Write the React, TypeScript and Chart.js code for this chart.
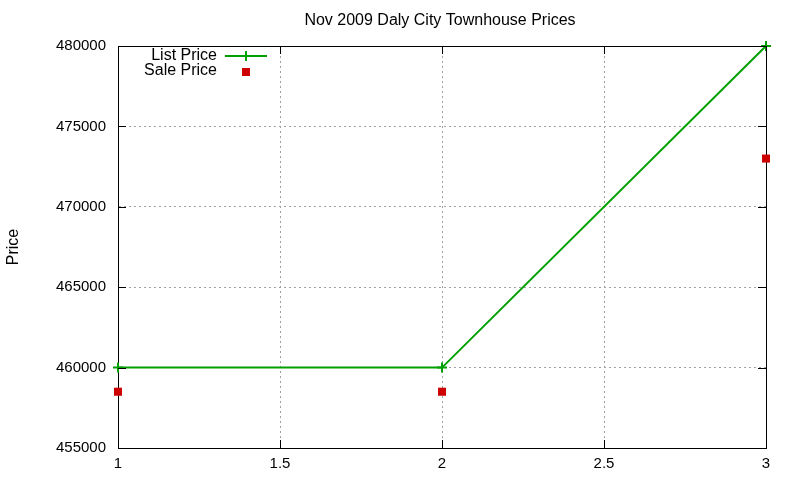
import { useEffect, useRef } from "react";
import { Chart, registerables } from "chart.js";

Chart.register(...registerables);

const xValues = [1, 2, 3];
const listPrices = [460000, 460000, 480000];
const salePrices = [458500, 458500, 473000];
const seriesNames = ["List Price", "Sale Price"];
const chartTitle = "Nov 2009 Daly City Townhouse Prices";

const FONT = "'Liberation Sans', Arial, sans-serif";
const GREEN = "#00a000";
const RED = "#cc0000";

// gnuplot-like extras: title, inward tick marks on all four sides, key box
const gnuplotExtras = {
  id: "gnuplotExtras",
  afterDraw(chart: any) {
    const { ctx, chartArea } = chart;
    const { left, right, top, bottom } = chartArea;
    const xs = chart.scales.x;
    const ys = chart.scales.y;
    ctx.save();
    ctx.strokeStyle = "#000";
    ctx.lineWidth = 1;
    ctx.beginPath();
    for (const t of xs.ticks) {
      const px = Math.round(xs.getPixelForValue(t.value)) + 0.5;
      ctx.moveTo(px, bottom);
      ctx.lineTo(px, bottom - 8);
      ctx.moveTo(px, top);
      ctx.lineTo(px, top + 8);
    }
    for (const t of ys.ticks) {
      const py = Math.round(ys.getPixelForValue(t.value)) + 0.5;
      ctx.moveTo(left, py);
      ctx.lineTo(left + 8, py);
      ctx.moveTo(right, py);
      ctx.lineTo(right - 8, py);
    }
    ctx.stroke();

    ctx.fillStyle = "#000";
    ctx.font = `16px ${FONT}`;
    ctx.textAlign = "center";
    ctx.textBaseline = "middle";
    ctx.fillText(chartTitle, 440, 21);

    // key
    ctx.textAlign = "right";
    ctx.fillText(seriesNames[0], 217, 56);
    ctx.fillText(seriesNames[1], 217, 71);
    ctx.strokeStyle = GREEN;
    ctx.lineWidth = 2;
    ctx.beginPath();
    ctx.moveTo(225, 56);
    ctx.lineTo(267, 56);
    ctx.moveTo(246, 51);
    ctx.lineTo(246, 61);
    ctx.stroke();
    ctx.fillStyle = RED;
    ctx.fillRect(242, 68, 8, 8);
    ctx.restore();
  },
};

export default function App() {
  const canvasRef = useRef<HTMLCanvasElement>(null);

  useEffect(() => {
    document.body.style.margin = "0";
    if (!canvasRef.current) return;
    const chart = new Chart(canvasRef.current, {
      type: "scatter",
      data: {
        datasets: [
          {
            label: seriesNames[0],
            data: xValues.map((x, i) => ({ x, y: listPrices[i] })),
            showLine: true,
            borderColor: GREEN,
            backgroundColor: GREEN,
            borderWidth: 2,
            pointStyle: "cross",
            pointRadius: 5,
            pointBorderWidth: 2,
            clip: false,
          },
          {
            label: seriesNames[1],
            data: xValues.map((x, i) => ({ x, y: salePrices[i] })),
            showLine: false,
            borderColor: RED,
            backgroundColor: RED,
            pointStyle: "rect",
            pointRadius: 5.7,
            pointBorderWidth: 0,
            clip: false,
          },
        ],
      },
      options: {
        responsive: false,
        animation: false,
        layout: { padding: { left: 0, right: 34, top: 46, bottom: 0 } },
        plugins: {
          legend: { display: false },
          title: { display: false },
          tooltip: { enabled: false },
        },
        scales: {
          x: {
            type: "linear",
            min: 1,
            max: 3,
            afterFit: (s: any) => {
              s.height = 32;
            },
            ticks: {
              stepSize: 0.5,
              color: "#000",
              padding: 7,
              font: { family: FONT, size: 15 },
              callback: (v: any) => String(v),
            },
            grid: {
              color: "#a0a0a0",
              drawTicks: false,
            },
            border: { display: true, color: "#000", width: 1, dash: [2, 3] },
          },
          y: {
            type: "linear",
            min: 455000,
            max: 480000,
            afterFit: (s: any) => {
              s.width = 118;
            },
            ticks: {
              stepSize: 5000,
              color: "#000",
              padding: 12,
              font: { family: FONT, size: 15 },
              callback: (v: any) => String(v),
            },
            grid: { color: "#a0a0a0", drawTicks: false },
            border: { display: true, color: "#000", width: 1, dash: [2, 3] },
            title: {
              display: true,
              text: "Price",
              color: "#000",
              font: { family: FONT, size: 16 },
            },
          },
        },
      },
      plugins: [
        {
          id: "frame",
          beforeDatasetsDraw(chart: any) {
            const { ctx, chartArea } = chart;
            ctx.save();
            ctx.strokeStyle = "#000";
            ctx.lineWidth = 1;
            ctx.strokeRect(
              Math.round(chartArea.left) + 0.5,
              Math.round(chartArea.top) + 0.5,
              Math.round(chartArea.right - chartArea.left),
              Math.round(chartArea.bottom - chartArea.top)
            );
            ctx.restore();
          },
        },
        gnuplotExtras,
      ],
    });
    return () => chart.destroy();
  }, []);

  return (
    <div style={{ width: 800, height: 480 }}>
      <canvas ref={canvasRef} width={800} height={480} />
    </div>
  );
}
